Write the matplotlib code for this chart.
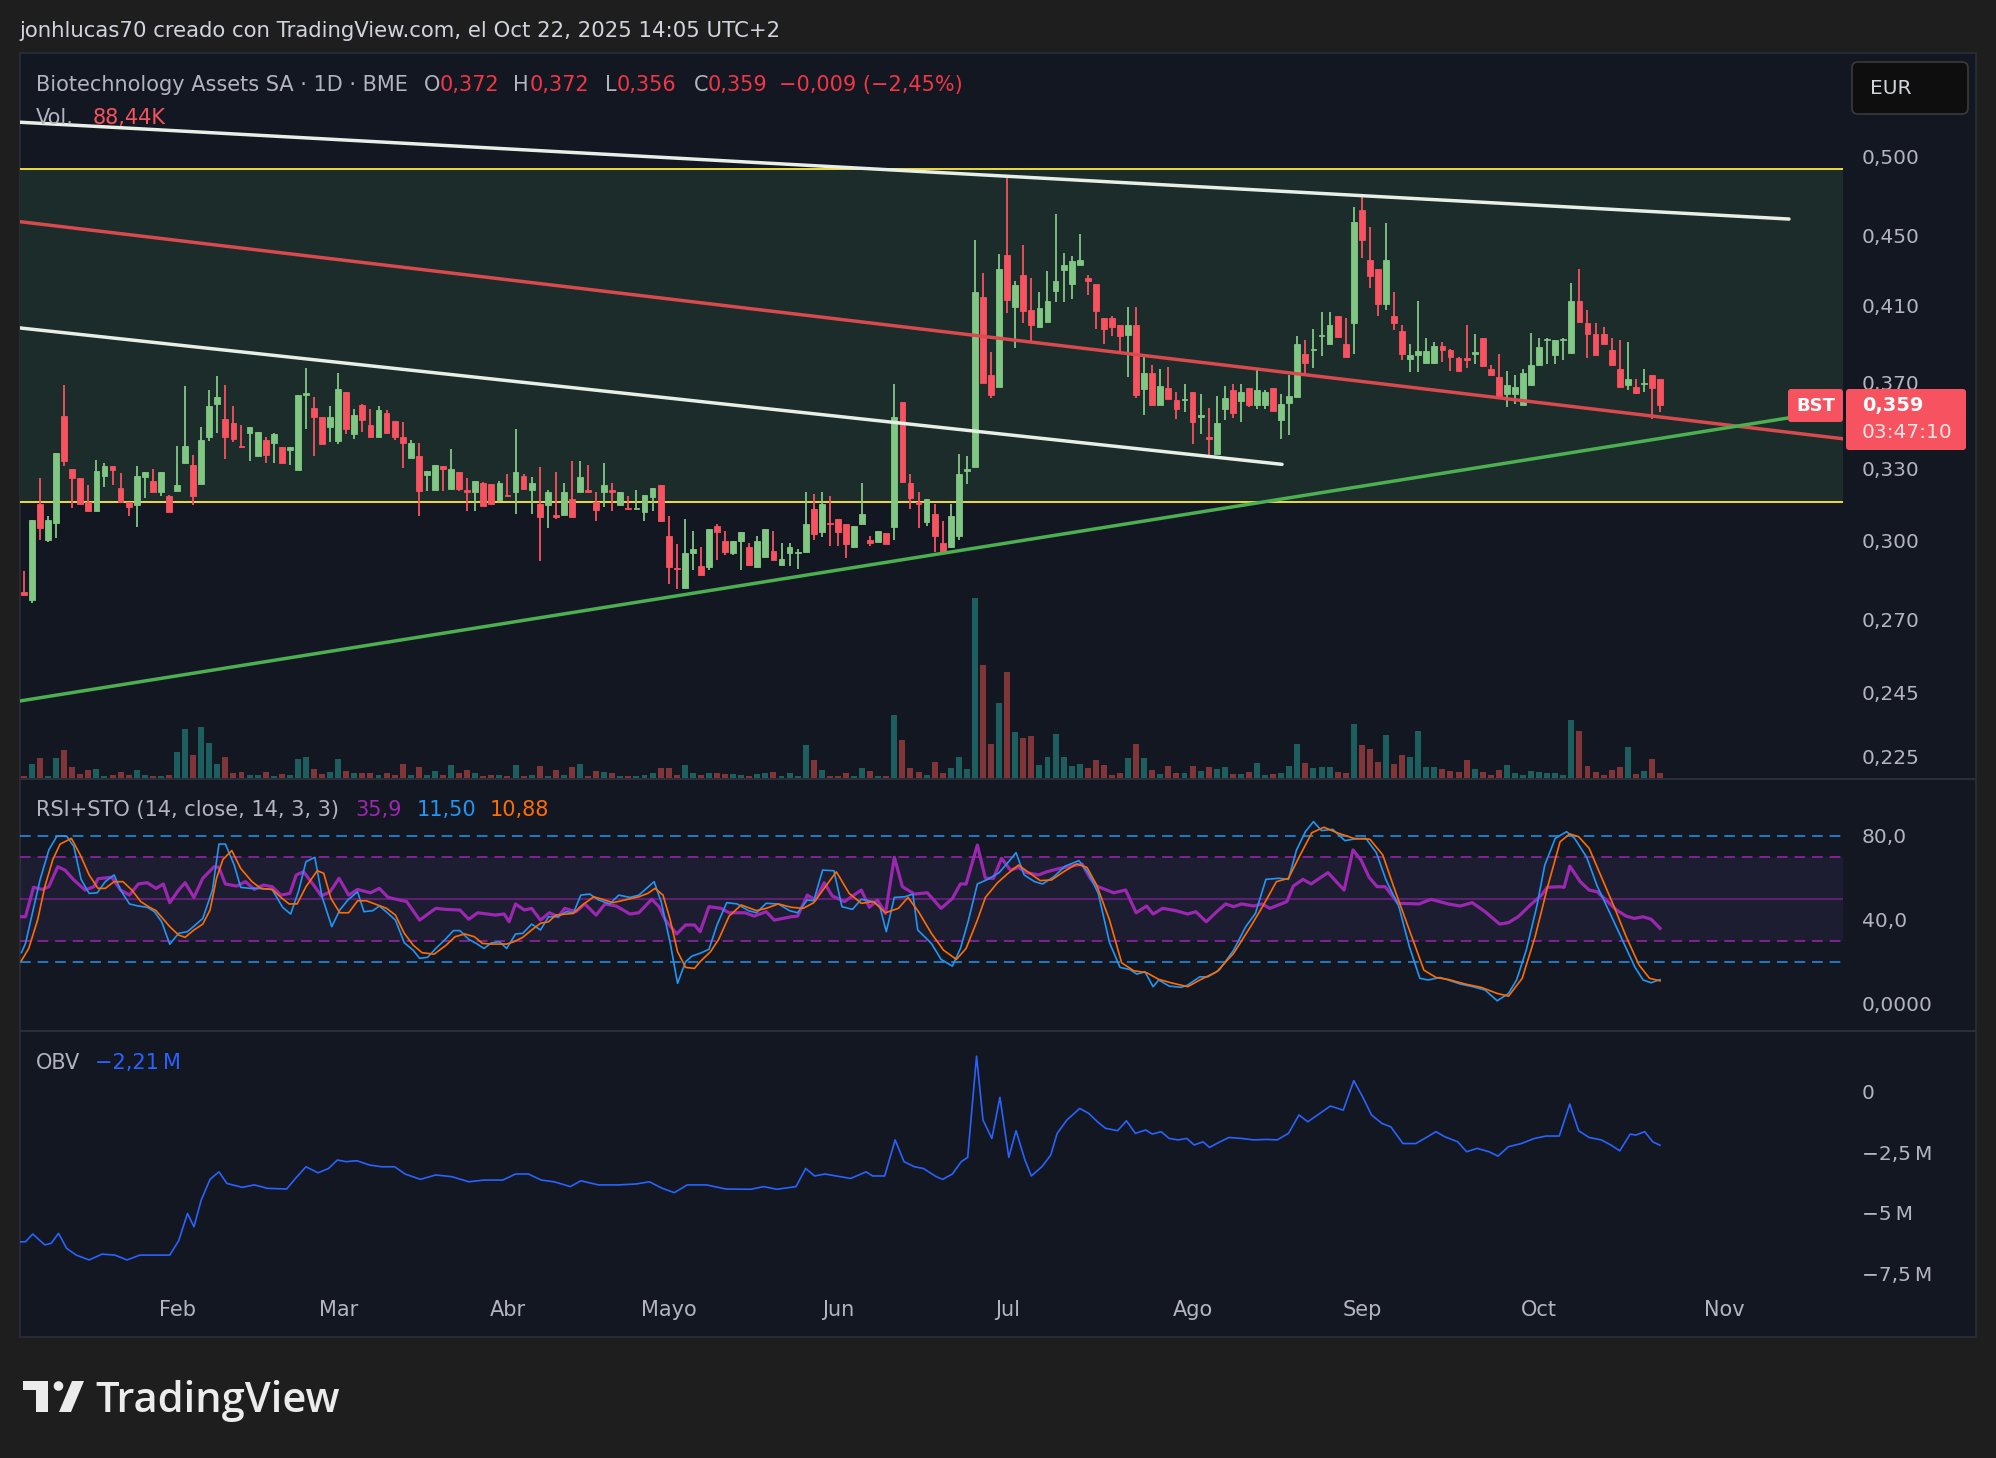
import numpy as np
import pandas as pd
import matplotlib
matplotlib.use("Agg")
import matplotlib.pyplot as plt
from matplotlib.patches import Rectangle, FancyBboxPatch, Polygon, Circle
from matplotlib.lines import Line2D
from matplotlib.ticker import NullLocator
from matplotlib.transforms import IdentityTransform

plt.rcParams["font.family"] = ["DejaVu Sans"]

W, H = 1996, 1458

# ---------------- data ----------------
holidays = ["2025-01-01", "2025-04-18", "2025-04-21", "2025-05-01", "2025-12-25", "2025-12-26"]
month_names = ["Feb", "Mar", "Abr", "Mayo", "Jun", "Jul", "Ago", "Sep", "Oct", "Nov"]

# daily candles, 2025-01-07 .. 2025-10-22
opens = [
    .280, .277, .315, .300, .307, .354, .330, .326, .3155, .312,
    .327, .331, .3215, .3155, .3145, .3265, .3245, .320, .318, .3205,
    .3325, .3317, .3235, .3443, .3595, .3525, .3506, .3403, .346, .3357,
    .3428, .3413, .3398, .3385, .3296, .3638, .3577, .3537, .3486, .3426,
    .3657, .3455, .359, .3497, .3443, .3554, .3515, .3442, .3348, .3356,
    .3272,
    .3208, .3312, .3210, .3286, .3206, .3198, .3239, .3232, .3164, .3186,
    .3198, .3268, .3207, .3148, .3145, .3102, .3102, .3168, .3199, .3209,
    .3155, .3199, .3206, .3145, .3133, .3129, .3117, .3178, .3230, .3016,
    .2893, .2817, .2948, .2897, .2896, .3056, .2996, .2948, .2996, .2975,
    .2896, .2934, .2958, .2902, .2948, .2949, .2955, .3128, .3033, .3070,
    .3085, .3064,
    .2975, .3066, .2999, .2994, .3030, .3054, .3607, .3238, .3155, .3075,
    .3108, .2989, .2975, .3016, .3289, .3306, .4148, .3739, .3680, .4385,
    .4090, .4273, .4077, .3983, .4013, .4183, .4301, .4220, .4329, .4254,
    .4218, .4034, .4034, .3993, .3941, .3993, .3670, .3749, .3592, .3676,
    .3617, .3615, .3656, .3536, .3441, .3365, .3573, .3666, .3611, .3676,
    .3592, .3592,
    .3672, .3521, .3603, .3631, .3844, .3863, .3937, .3894, .4045, .3894,
    .4004, .4659, .4355, .4305, .4111, .4045, .3963, .3821, .3840, .3801,
    .3801, .3884, .3863, .3824, .3822, .3844, .3927, .3770, .3728, .3643,
    .3643, .3594, .3691, .3789, .3915, .3840, .3915, .3850, .4126, .4004,
    .3949, .3949, .3863, .3766, .3691, .3681, .3693, .3738, .372,
]
highs = [
    .288, .308, .326, .310, .337, .369, .330, .326, .323, .334,
    .3325, .331, .328, .3155, .331, .3285, .330, .3285, .3185, .340,
    .3685, .336, .3487, .3666, .3734, .3688, .3586, .3497, .349, .3466,
    .344, .346, .3398, .3398, .3638, .3773, .363, .3537, .3586, .3747,
    .3657, .3575, .3595, .3575, .3586, .3568, .3515, .351, .3428, .3416,
    .3291,
    .3316, .3312, .3387, .3286, .3260, .3248, .3244, .3232, .3248, .3278,
    .3479, .3276, .3262, .3307, .3209, .3286, .3239, .3336, .3336, .3316,
    .3201, .3323, .3239, .3201, .3180, .3209, .3187, .3216, .3230, .3097,
    .2987, .3085, .3036, .2974, .3047, .3064, .3036, .2996, .3033, .2989,
    .3016, .3047, .3036, .2989, .2989, .2967, .3201, .3189, .3201, .3181,
    .3085, .3064,
    .3056, .3238, .3016, .3038, .3030, .3695, .3607, .3278, .3200, .3169,
    .3149, .3079, .3149, .3365, .3356, .4475, .4283, .3855, .4389, .4880,
    .4239, .4444, .4254, .4177, .4293, .4631, .4399, .4379, .4513, .4273,
    .4218, .4034, .4045, .3993, .4090, .4090, .3830, .3789, .3769, .3779,
    .3656, .3695, .3656, .3646, .3579, .3636, .3686, .3695, .3695, .3676,
    .3769, .3666,
    .3672, .3643, .3738, .3937, .3917, .3974, .4066, .4066, .4045, .4031,
    .4677, .4744, .4554, .4305, .4578, .4175, .3998, .3894, .4124, .3927,
    .3907, .3907, .3871, .3830, .3994, .3950, .3927, .3789, .3844, .3760,
    .3738, .3770, .3953, .3927, .3927, .3917, .3927, .4228, .4305, .4075,
    .4004, .3986, .3927, .3917, .3907, .3719, .3770, .3738, .372,
]
lows = [
    .279, .276, .300, .2995, .301, .331, .313, .315, .312, .312,
    .322, .323, .3155, .310, .3055, .3175, .320, .318, .3115, .3205,
    .3325, .3146, .3235, .3426, .346, .3343, .3417, .3396, .3335, .3357,
    .3327, .3327, .3325, .3318, .3296, .348, .3357, .341, .3417, .341,
    .3455, .3433, .3466, .3443, .3443, .3461, .3428, .3302, .3348, .3097,
    .3204,
    .3206, .3204, .3210, .3204, .3121, .3121, .3141, .3149, .3156, .3180,
    .3108, .3210, .3108, .2920, .3050, .3087, .3102, .3094, .3199, .3199,
    .3079, .3137, .3121, .3145, .3128, .3129, .3079, .3121, .3076, .2829,
    .2810, .2817, .2884, .2866, .2883, .2922, .2941, .2942, .2884, .2900,
    .2896, .2934, .2922, .2902, .2899, .2886, .2955, .2999, .3012, .2978,
    .2978, .2929,
    .2970, .3066, .2978, .2994, .2986, .2999, .3238, .3129, .3050, .3058,
    .2953, .2953, .2970, .2999, .3233, .3306, .3699, .3627, .3680, .4058,
    .3877, .4008, .3908, .3983, .4013, .4118, .4118, .4138, .4329, .4156,
    .3977, .3898, .3937, .3846, .3729, .3627, .3544, .3592, .3592, .3621,
    .3525, .3559, .3408, .3456, .3359, .3365, .3521, .3530, .3512, .3582,
    .3573, .3573,
    .3561, .3431, .3449, .3631, .3738, .3772, .3834, .3894, .3933, .3830,
    .3844, .4366, .4198, .4045, .4075, .3967, .3815, .3751, .3751, .3801,
    .3791, .3805, .3760, .3757, .3772, .3795, .3776, .3738, .3631, .3580,
    .3597, .3594, .3691, .3789, .3795, .3795, .3815, .3850, .4014, .3824,
    .3840, .3894, .3789, .3681, .3666, .3643, .3656, .3524, .356,
]
closes = [
    .279, .308, .305, .308, .337, .3335, .326, .315, .312, .329,
    .331, .3295, .3155, .3135, .3268, .3285, .320, .3285, .3115, .3228,
    .340, .318, .3428, .3586, .363, .3442, .3435, .3396, .349, .3466,
    .3362, .3455, .3325, .3398, .3638, .3652, .3537, .341, .3534, .3667,
    .3477, .3544, .352, .3443, .3568, .3461, .3443, .3413, .3416, .3204,
    .3291,
    .3316, .3298, .3299, .3212, .3200, .3248, .3141, .3149, .3236, .3181,
    .3286, .3210, .3236, .3094, .3201, .3096, .3201, .3094, .3262, .3199,
    .3125, .3230, .3200, .3201, .3128, .3133, .3187, .3216, .3076, .2896,
    .2888, .2948, .2967, .2866, .3047, .3035, .2954, .2996, .3033, .2902,
    .2997, .3047, .2922, .2926, .2975, .2955, .3064, .3025, .3148, .3065,
    .3033, .2987,
    .3056, .3106, .2989, .3038, .2986, .3534, .3243, .3174, .3148, .3169,
    .3016, .2954, .3099, .3278, .3298, .4177, .3699, .3640, .4306, .4132,
    .4214, .4073, .3993, .4088, .4124, .4236, .4329, .4349, .4355, .4236,
    .4073, .3977, .3987, .3935, .3993, .3640, .3749, .3592, .3686, .3621,
    .3573, .3623, .3512, .3544, .3433, .3507, .3627, .3553, .3656, .3592,
    .3666, .3656,
    .3565, .3597, .3634, .3894, .3801, .3871, .3943, .3998, .3933, .3830,
    .4583, .4472, .4263, .4111, .4355, .4004, .3842, .3840, .3860, .3860,
    .3884, .3863, .3830, .3757, .3815, .3852, .3781, .3738, .3631, .3691,
    .3681, .3748, .3789, .3880, .3923, .3917, .3921, .4126, .4014, .3949,
    .3840, .3894, .3789, .3681, .3719, .3649, .3700, .3672, .359,
]
# volume, thousands of shares
volumes = [
    36, 252, 360, 36, 360, 504, 198, 72, 144, 162, 36, 54, 108, 54, 144, 54, 36, 36, 54, 468,
    882, 414, 918, 630, 252, 378, 90, 108, 54, 54, 108, 36, 72, 54, 342, 378, 162, 72, 108, 342,
    126, 90, 90, 90, 54, 90, 54, 252, 54, 198, 54,
    126, 54, 234, 90, 144, 90, 36, 54, 54, 36, 234, 36, 54, 216, 36, 144, 54, 198, 252, 36,
    126, 108, 90, 36, 36, 36, 54, 90, 180, 180, 54, 234, 90, 54, 90, 90, 72, 72, 54, 36,
    72, 90, 108, 36, 90, 36, 594, 324, 144, 36, 36, 90,
    36, 180, 126, 36, 36, 1134, 684, 180, 108, 54, 288, 90, 180, 378, 162, 3240, 2034, 612, 1350, 1908,
    828, 720, 756, 234, 378, 792, 378, 216, 252, 180, 324, 234, 54, 90, 360, 612, 360, 144, 72, 216,
    90, 90, 216, 126, 198, 162, 198, 72, 72, 108, 270, 54,
    72, 90, 216, 612, 270, 180, 198, 198, 108, 90, 972, 594, 522, 288, 774, 252, 414, 378, 846, 198,
    198, 162, 126, 108, 324, 162, 108, 54, 144, 234, 90, 54, 126, 108, 90, 90, 54, 1044, 846, 216,
    108, 54, 144, 198, 558, 72, 126, 342, 88,
]

# indicator lines, positions in trading days from 3 Feb
rsi_pos = [-19.3, -18.8, -17.8, -16.7, -15.9, -14.8, -13.9, -12.8, -11.4, -10.3, -9.8, -8.1, -7.0, -5.9, -4.8,
           -3.7, -2.6, -1.7, -0.9, 0.2, 1.0, 2.1, 3.2, 4.6, 5.2, 6.0, 7.4, 8.5, 9.6, 10.7, 11.8, 12.9, 14.0,
           14.8, 15.7, 17.1, 17.9, 19.0, 20.1, 21.3, 22.4, 24.0, 25.1, 26.2, 28.5, 30.1, 32.1, 33.4, 35.1,
           36.2, 37.3, 39.5, 40.6, 41.2, 42.0, 43.1, 44.0, 45.1, 46.2, 47.3, 48.1, 49.5, 50.6, 52.0, 53.1,
           54.5, 56.2, 57.3, 58.9, 59.8, 60.6, 62.0, 63.1, 64.2,
           64.9, 66.0, 67.5, 68.5, 70.5, 71.6, 73.1, 74.1, 76.2, 77.0, 78.2, 79.2, 80.3, 81.3, 82.8, 84.9,
           85.9, 86.9, 87.9, 89.0, 90.0, 91.5, 93.1, 94.8, 96.2, 97.2, 97.9, 99.3, 100.3, 101.3, 102.3,
           103.4, 104.4, 105.4, 106.9, 107.9, 109.5, 111.0, 112.3, 113.3, 114.1, 116.2, 117.7, 119.0,
           120.3, 121.1, 122.3, 123.9, 125.4, 126.4, 127.7, 129.0, 130.1, 131.1, 132.1, 133.6, 134.6,
           135.6, 137.7, 138.5, 139.7, 140.7, 142.8, 144.8, 145.9, 146.9, 147.9, 148.9, 149.9, 151.5,
           154.1, 155.6, 157.7, 159.2, 160.7, 162.3, 164.1, 165.2, 166.4, 167.9, 169.3, 170.0, 171.6,
           172.1, 172.8, 174.1, 175.2, 176.2, 177.2, 178.6, 179.8, 180.8, 181.9, 182.9, 184.0]
rsi_val = [41.4, 41.4, 55.4, 54.4, 55.7, 65.2, 63.6, 58.9, 54.1, 55.7, 59.5, 60.2, 54.1, 51.7, 57.0,
           57.6, 54.9, 57.0, 48.1, 54.1, 57.6, 50.6, 59.7, 65.2, 64.9, 57.0, 56.0, 58.1, 54.4, 56.5, 55.7,
           51.7, 52.5, 61.3, 62.8, 55.7, 51.3, 53.3, 59.7, 51.7, 54.4, 52.8, 54.9, 50.6, 48.6, 39.8, 45.4,
           44.9, 44.6, 40.2, 43.3, 42.2, 42.7, 39.0, 47.5, 44.6, 45.4, 39.8, 43.3, 41.4, 45.4, 43.8, 47.5,
           42.2, 47.5, 46.5, 42.7, 43.3, 49.7, 46.2, 39.8, 33.2, 37.5, 37.5,
           34.3, 46.2, 45.4, 43.3, 43.3, 41.7, 43.8, 39.8, 41.4, 41.7, 51.7, 49.4, 57.6, 51.3, 48.6, 54.1,
           45.9, 49.4, 43.0, 69.7, 55.7, 52.2, 52.8, 45.4, 50.1, 57.0, 57.0, 75.5, 59.7, 59.7, 69.2,
           63.6, 64.9, 62.4, 61.3, 62.8, 64.4, 65.5, 66.5, 59.7, 56.0, 52.8, 54.1, 43.3,
           46.5, 42.7, 45.4, 44.3, 42.7, 43.8, 39.0, 43.8, 47.5, 46.2, 47.5, 46.5, 47.5,
           45.4, 48.6, 56.0, 59.2, 57.0, 62.4, 54.1, 73.2, 68.4, 60.2, 55.7, 55.7, 47.8,
           47.5, 49.7, 47.5, 46.5, 48.1, 43.8, 37.9, 38.6, 41.4, 47.0, 51.7, 55.4, 55.7,
           55.4, 65.5, 58.1, 54.1, 53.3, 49.7, 44.6, 41.7, 40.6, 41.4, 40.2, 35.9]
k_pos = [-19.3, -18.8, -17.8, -17.0, -15.9, -14.9, -13.7, -12.8, -11.9, -10.9, -9.9, -8.9, -7.8, -7.0, -5.9,
         -4.8, -3.7, -2.8, -1.9, -0.9, 0.2, 1.3, 2.4, 3.2, 4.4, 5.2, 6.0, 7.1, 7.9, 9.1, 10.2, 11.8, 13.1,
         14.1, 15.1, 16.0, 17.1, 18.0, 19.2, 20.2, 21.2, 22.4, 23.2, 24.3, 25.1, 26.2, 27.1, 28.2, 29.3,
         30.1, 31.1, 32.1, 33.2, 34.3, 35.1, 36.2, 37.0, 38.1, 39.0, 40.0, 40.9, 42.0, 42.9, 44.0, 45.1,
         46.1, 47.2, 48.3, 49.2, 50.1, 51.2, 52.3, 53.7, 54.8, 56.2, 57.3, 58.4, 59.2, 60.1, 61.2, 62.1,
         63.1, 63.9,
         64.9, 66.0, 67.0, 68.2, 69.5, 70.9, 71.9, 73.1, 74.6, 76.0, 77.0, 78.2, 79.0, 80.1, 81.5, 82.5,
         83.8, 84.9, 86.4, 87.2, 88.0, 89.0, 90.3, 91.3, 91.9, 93.6, 94.8, 96.2, 97.2, 98.2, 99.3, 100.6,
         102.0, 103.0, 104.1, 105.1, 106.4, 107.4, 108.8, 110.2, 111.9, 113.1, 114.3, 115.7, 117.0,
         118.2, 119.1, 120.1, 121.1, 121.8, 123.1, 124.6, 125.4, 126.9, 127.9, 129.3, 131.1, 132.6,
         133.8, 135.1, 136.7, 137.9, 138.9, 140.0, 141.0, 142.0, 143.4, 144.9, 145.9, 147.5, 148.8,
         150.0, 151.6, 152.9, 154.2, 155.2, 156.7, 157.7, 159.2, 160.8, 162.3, 163.8, 165.2, 166.2,
         167.4, 168.7, 169.7, 171.0, 172.4, 173.4, 174.9, 176.2, 177.8, 179.3, 180.9, 181.9, 182.9, 184.0]
k_val = [24.3, 28.7, 45.4, 58.9, 73.2, 79.8, 79.8, 74.8, 59.2, 52.5, 52.8, 58.1, 61.3, 54.1, 47.5,
         46.5, 45.9, 43.8, 39.0, 28.3, 33.5, 34.3, 37.9, 40.6, 54.1, 76.0, 76.0, 66.0, 55.4, 54.9, 54.9,
         54.4, 45.9, 42.7, 53.8, 67.6, 69.7, 50.9, 36.7, 44.6, 49.4, 53.3, 43.8, 44.3, 46.5, 43.0, 39.8,
         29.0, 25.5, 21.6, 22.1, 26.3, 30.3, 34.8, 34.8, 30.6, 29.0, 26.3, 29.0, 29.5, 26.3, 33.2, 33.5,
         37.9, 35.1, 41.4, 41.4, 43.8, 43.3, 51.7, 52.2, 49.4, 47.5, 51.7, 50.6, 51.7, 55.4, 58.1, 48.1,
         28.7, 9.7, 20.0, 22.7,
         24.0, 25.9, 37.5, 48.1, 47.5, 44.3, 43.3, 47.8, 47.5, 44.3, 43.3, 49.4, 49.0, 63.6, 63.3, 46.2,
         44.9, 49.7, 48.6, 46.2, 34.3, 50.6, 50.9, 52.2, 35.1, 28.7, 21.1, 17.9, 26.3, 39.8, 57.0, 59.2,
         62.4, 66.8, 71.9, 61.3, 58.1, 57.0, 60.5, 65.5, 68.1, 62.1, 52.5, 29.0, 17.3,
         16.3, 14.1, 15.2, 8.1, 11.3, 8.4, 7.8, 8.9, 12.8, 12.8, 16.0, 25.5, 36.7,
         43.0, 59.2, 59.7, 59.2, 73.2, 81.9, 86.7, 82.4, 83.0, 77.6, 78.3, 78.7, 71.9,
         58.9, 46.2, 27.1, 12.1, 11.3, 12.5, 11.3, 9.4, 8.1, 6.5, 1.4, 4.9, 11.3,
         25.5, 46.2, 66.0, 78.7, 81.9, 78.7, 69.7, 56.0, 43.0, 30.6, 17.3, 11.3, 10.0, 11.5]
d_pos = [-19.3, -18.4, -17.3, -16.4, -15.4, -14.5, -13.1, -12.0, -10.9, -9.8, -8.9, -7.8, -6.7, -5.6, -4.5,
         -3.4, -2.6, -0.9, 0.2, 1.0, 2.1, 3.2, 4.1, 4.9, 5.7, 6.8, 7.9, 9.3, 10.4, 11.8, 12.9, 13.9, 14.9,
         16.0, 17.4, 18.2, 19.1, 20.2, 21.3, 22.4, 23.5, 24.9, 26.0, 27.1, 28.2, 29.3, 30.4, 31.9, 33.4,
         34.5, 35.7, 36.9, 37.9, 39.0, 40.9, 41.8, 42.9, 44.0, 45.1, 46.1, 47.0, 48.3, 49.2, 50.3, 51.7,
         52.8, 54.1, 55.6, 57.3, 58.4, 59.3, 60.3, 61.2, 62.1, 63.1, 64.2,
         64.9, 66.2, 67.2, 68.5, 70.0, 71.9, 73.1, 74.6, 76.2, 77.7, 79.0, 80.5, 81.8, 83.4, 84.9, 86.4,
         87.9, 89.5, 90.7, 92.0, 93.6, 95.1, 96.7, 97.9, 99.3, 100.3, 101.8, 103.0, 104.4, 105.7, 107.1,
         108.5, 110.0, 111.6, 112.9, 114.1, 115.7, 117.2, 118.7, 120.3, 121.8, 123.3, 125.4, 126.9,
         129.0, 131.1, 133.2, 134.8, 136.4, 137.9, 139.2, 140.8, 142.3, 143.9, 146.0, 148.0, 149.6,
         151.1, 152.9, 154.7, 156.2, 157.7, 159.8, 161.8, 163.8, 165.2, 166.9, 168.5, 170.0, 171.6,
         172.8, 173.9, 175.2, 176.7, 178.3, 179.8, 181.4, 182.7, 184.0]
d_val = [20.5, 26.3, 39.8, 55.7, 68.7, 76.0, 78.7, 70.8, 61.3, 54.9, 54.9, 58.1, 58.1, 54.1, 48.6,
         45.9, 44.3, 36.7, 32.7, 31.6, 35.1, 37.9, 44.6, 59.7, 68.7, 72.9, 64.4, 58.1, 54.9, 54.4, 50.6,
         47.5, 47.5, 55.7, 63.3, 62.1, 50.1, 43.3, 43.3, 49.0, 49.0, 47.0, 45.4, 42.2, 33.5, 27.9, 24.3,
         23.6, 27.9, 31.9, 33.2, 31.9, 28.7, 28.4, 28.4, 29.5, 31.6, 35.1, 38.3, 39.0, 42.2, 42.7, 43.0,
         47.0, 50.9, 49.7, 48.1, 49.4, 50.9, 52.5, 54.9, 51.7, 39.8, 24.8, 17.3, 16.8,
         20.0, 24.8, 30.6, 41.7, 47.0, 44.3, 45.4, 47.5, 45.9, 45.4, 48.1, 56.0, 62.8, 52.5, 47.8, 48.6,
         43.3, 45.4, 50.6, 43.8, 33.5, 25.5, 21.1, 26.3, 39.8, 50.6, 57.6, 61.7, 66.0, 62.4, 58.6,
         58.9, 62.8, 66.5, 64.9, 56.5, 39.8, 19.5, 15.7, 14.8, 11.6, 10.0, 8.1, 11.3,
         15.2, 24.0, 36.7, 47.0, 58.1, 59.7, 69.7, 81.4, 84.0, 81.4, 78.7, 78.3, 70.8,
         54.1, 35.1, 16.0, 12.5, 11.6, 9.4, 7.8, 4.9, 3.6, 12.1, 31.9, 54.9, 77.1,
         80.8, 79.5, 74.0, 60.5, 46.2, 31.9, 18.4, 12.1, 10.9]
obv_pos = [-19.4, -18.8, -17.9, -16.4, -15.6, -14.7, -13.7, -12.5, -10.9, -9.3,
           -7.7, -6.2, -4.6, -3.0, -0.9, 0.2, 1.3, 2.1, 3.0, 4.1,
           5.2, 6.2, 8.1, 9.6, 11.2, 13.6, 14.7, 16.0, 17.5, 18.8,
           19.9, 21.0, 22.3, 23.9, 25.4, 27.0, 28.3, 30.2, 32.1, 34.1,
           36.2, 38.1, 40.4, 42.0, 43.6, 45.2, 46.8, 48.8, 50.1, 52.3,
           54.7, 57.0, 58.6, 60.2, 61.7, 63.3, 65.7, 68.1, 71.2, 72.8,
           74.4, 76.8, 78.0, 79.1, 80.4, 82.3, 83.6, 85.5, 86.3, 87.8,
           89.1, 90.2, 91.5, 92.6, 94.2, 95.0, 96.2, 97.3, 98.1, 99.2,
           100.0, 101.1, 102.1, 103.2, 104.1, 105.2, 106.0, 107.3, 108.4, 109.2,
           110.4, 112.0, 113.1, 114.2, 115.2, 116.7, 117.8, 118.9, 120.2, 121.0,
           122.1, 123.1, 124.2, 125.3, 126.2, 127.3, 128.1, 129.4, 130.5, 132.1,
           133.6, 135.2, 136.5, 137.9, 139.2, 140.3, 141.5, 143.1, 144.7, 146.0,
           147.1, 148.2, 149.5, 150.6, 152.1, 153.7, 155.0, 156.2, 157.3, 158.9,
           160.0, 161.3, 162.8, 163.9, 165.2, 166.8, 168.4, 169.9, 171.5, 172.8,
           173.9, 175.2, 176.7, 177.9, 179.0, 180.3, 181.0, 182.1, 183.1, 184.0]
obv_val = [-6.20, -6.20, -5.88, -6.33, -6.26, -5.85, -6.47, -6.75, -6.95, -6.71,
           -6.75, -6.95, -6.75, -6.75, -6.75, -6.16, -5.03, -5.58, -4.48, -3.62,
           -3.31, -3.79, -3.95, -3.85, -3.99, -4.02, -3.58, -3.10, -3.35, -3.17,
           -2.82, -2.89, -2.85, -3.03, -3.10, -3.10, -3.40, -3.62, -3.44, -3.51,
           -3.72, -3.65, -3.65, -3.40, -3.40, -3.65, -3.72, -3.92, -3.68, -3.85,
           -3.85, -3.81, -3.72, -3.99, -4.17, -3.85, -3.85, -4.02, -4.03, -3.92,
           -4.03, -3.92, -3.17, -3.48, -3.40, -3.51, -3.58, -3.31, -3.48, -3.48,
           -1.99, -2.89, -3.10, -3.17, -3.51, -3.62, -3.40, -2.89, -2.71, 1.47,
           -1.17, -1.93, -0.23, -2.71, -1.61, -2.82, -3.48, -3.10, -2.62, -1.72,
           -1.17, -0.69, -0.89, -1.24, -1.51, -1.61, -1.20, -1.72, -1.58, -1.75,
           -1.65, -1.93, -1.99, -1.93, -2.20, -2.07, -2.30, -2.07, -1.89, -1.93,
           -1.99, -1.97, -1.99, -1.72, -0.96, -1.24, -0.96, -0.59, -0.76, 0.46,
           -0.21, -0.96, -1.31, -1.45, -2.14, -2.14, -1.89, -1.65, -1.86, -2.07,
           -2.48, -2.34, -2.48, -2.66, -2.27, -2.14, -1.93, -1.83, -1.83, -0.51,
           -1.61, -1.89, -1.99, -2.20, -2.44, -1.75, -1.79, -1.65, -2.07, -2.21]

price_ticks = [0.500, 0.450, 0.410, 0.370, 0.330, 0.300, 0.270, 0.245, 0.225]
rsi_ticks = [80, 40, 0]
rsi_tick_labels = ["80,0", "40,0", "0,0000"]
obv_ticks = [0, -2.5, -5, -7.5]
obv_tick_labels = ["0", "\u22122,5\u202fM", "\u22125\u202fM", "\u22127,5\u202fM"]

# drawings on the chart: (trading days from 3 Feb, price)
white_top = [(-19.5, 0.5234), (200.0, 0.4601)]
white_low = [(-19.5, 0.3980), (137.1, 0.3319)]
red_line = [(-19.5, 0.4585), (206.7, 0.3434)]
green_line = [(-19.5, 0.2422), (206.7, 0.3572)]
zone_top, zone_bottom = 0.4916, 0.3158

# ---------------- style ----------------
BG_OUT = "#1e1e1e"
BG = "#131722"
UP, DOWN = "#81c784", "#f7525f"
VUP, VDOWN = "#1d5e5e", "#803539"
GRAY = "#b2b5be"
RED_TXT = "#f23645"
PX = IdentityTransform()

fig = plt.figure(figsize=(W / 100, H / 100), dpi=100, facecolor=BG_OUT)


def rect(x0, y0, x1, y1):
    return [x0 / W, 1 - y1 / H, (x1 - x0) / W, (y1 - y0) / H]


def ftext(x, y, s, **kw):
    kw.setdefault("va", "center")
    kw.setdefault("ha", "left")
    return fig.text(x, H - y, s, transform=PX, **kw)


fig.add_artist(Rectangle((20, H - 1337), 1956, 1337 - 53, transform=PX,
                         facecolor=BG, edgecolor="#2a2e39", lw=1.2, zorder=-5))
for yy in (778.5, 1030.5):
    fig.add_artist(Line2D([20, 1976], [H - yy, H - yy], transform=PX, color="#2a2e39", lw=1.5, zorder=-4))

# x positions
days = pd.bdate_range("2025-01-07", "2025-11-28", freq="C", holidays=holidays)
n = len(closes)
feb = int(np.searchsorted(days, pd.Timestamp("2025-02-01")))
x = np.arange(n) - feb
firsts = [i for i in range(1, len(days)) if days[i].month != days[i - 1].month]
month_pos = [i - feb for i in firsts]
XL = (-19.48, 206.7)

o = np.array(opens); h = np.array(highs); l = np.array(lows); c = np.array(closes)
up = c >= o
ccol = np.where(up, UP, DOWN)
vcol = np.where(up, VUP, VDOWN)

# ---- volume (behind) ----
ax_v = fig.add_axes(rect(20, 55, 1843, 778))
ax_v.set_zorder(1)
ax_v.patch.set_alpha(0)
ax_v.bar(x, volumes, width=0.74, color=vcol, linewidth=0)
ax_v.set_xlim(*XL)
ax_v.set_ylim(0, max(volumes) * 4.02)
ax_v.axis("off")

# ---- price ----
ax = fig.add_axes(rect(20, 55, 1843, 778))
ax.set_zorder(2)
ax.patch.set_alpha(0)
ax.set_yscale("log")
ax.set_xlim(*XL)
ax.set_ylim(0.2186, 0.5724)
ax.axhspan(zone_bottom, zone_top, color="#1b2c2a", lw=0, zorder=0.5)
for lv in (zone_top, zone_bottom):
    ax.axhline(lv, color="#ffeb3b", lw=1.3, zorder=1)
ax.vlines(x, l, h, colors=ccol, lw=1.3, zorder=3)
ax.bar(x, np.abs(c - o), bottom=np.minimum(o, c), width=0.72, color=ccol,
       edgecolor=ccol, linewidth=0.6, zorder=4)
for line, col in ((white_top, "#e8efe6"), (white_low, "#e8efe6"), (red_line, "#d94a4e"), (green_line, "#4caf50")):
    ax.plot([line[0][0], line[1][0]], [line[0][1], line[1][1]], color=col, lw=2.5,
            solid_capstyle="round", zorder=5)
ax.yaxis.tick_right()
ax.set_yticks(price_ticks)
ax.set_yticklabels([f"{v:.3f}".replace(".", ",") for v in price_ticks])
ax.yaxis.set_minor_locator(NullLocator())
ax.set_xticks([])
ax.tick_params(axis="y", length=0, pad=13.5, labelsize=14.5, labelcolor=GRAY)
for s in ax.spines.values():
    s.set_visible(False)

# ---- RSI + stochastic ----
ax_r = fig.add_axes(rect(20, 779, 1843, 1030))
ax_r.patch.set_alpha(0)
ax_r.set_xlim(*XL)
ax_r.set_ylim(-12.5, 106.96)
ax_r.axhspan(30, 70, color="#7e57c2", alpha=0.1, lw=0)
ax_r.axhline(50, color="#9c27b0", alpha=0.5, lw=1.5)
for lv in (70, 30):
    ax_r.axhline(lv, color="#9c27b0", lw=1.1, ls=(0, (7, 4.5)))
for lv in (80, 20):
    ax_r.axhline(lv, color="#2196f3", lw=1.1, ls=(0, (7, 4.5)))
ax_r.plot(rsi_pos, rsi_val, color="#9c27b0", lw=2.3, zorder=3)
ax_r.plot(k_pos, k_val, color="#2196f3", lw=1.2, zorder=4)
ax_r.plot(d_pos, d_val, color="#ff6d00", lw=1.2, zorder=5)
ax_r.yaxis.tick_right()
ax_r.set_yticks(rsi_ticks)
ax_r.set_yticklabels(rsi_tick_labels)
ax_r.set_xticks([])
ax_r.tick_params(axis="y", length=0, pad=13.5, labelsize=14.5, labelcolor=GRAY)
for s in ax_r.spines.values():
    s.set_visible(False)

# ---- OBV ----
ax_o = fig.add_axes(rect(20, 1031, 1843, 1296))
ax_o.patch.set_alpha(0)
ax_o.set_xlim(*XL)
ax_o.set_ylim(-8.44, 2.51)
ax_o.plot(obv_pos, obv_val, color="#2962ff", lw=1.2)
ax_o.yaxis.tick_right()
ax_o.set_yticks(obv_ticks)
ax_o.set_yticklabels(obv_tick_labels)
ax_o.set_xticks(month_pos)
ax_o.set_xticklabels(month_names)
ax_o.tick_params(axis="y", length=0, pad=13.5, labelsize=14.5, labelcolor=GRAY)
ax_o.tick_params(axis="x", length=0, pad=3, labelsize=15, labelcolor=GRAY)
for s in ax_o.spines.values():
    s.set_visible(False)

# ---- texts / overlays ----
ftext(19, 31, "jonhlucas70 creado con TradingView.com, el Oct 22, 2025 14:05 UTC+2",
      fontsize=15.3, color="#d1d4dc")
ftext(36, 85, "Biotechnology Assets SA \u00b7 1D \u00b7 BME", fontsize=15, color=GRAY)
for lab, xl, val, xv in (("O", 424, "0,372", 440), ("H", 513, "0,372", 530),
                         ("L", 605, "0,356", 617), ("C", 694, "0,359", 708)):
    ftext(xl, 85, lab, fontsize=15, color=GRAY)
    ftext(xv, 85, val, fontsize=15, color=RED_TXT)
ftext(779, 85, "\u22120,009 (\u22122,45%)", fontsize=15, color=RED_TXT)
ftext(36, 118, "Vol.", fontsize=15, color=GRAY)
ftext(93, 118, "88,44K", fontsize=15, color=DOWN)

ftext(36, 810, "RSI+STO (14, close, 14, 3, 3)", fontsize=15, color=GRAY)
ftext(355, 810, "35,9", fontsize=15, color="#9c27b0")
ftext(417, 810, "11,50", fontsize=15, color="#2196f3")
ftext(490, 810, "10,88", fontsize=15, color="#ff6d00")
ftext(36, 1063, "OBV", fontsize=15, color=GRAY)
ftext(95, 1063, "\u22122,21\u202fM", fontsize=15, color="#2962ff")

# currency box
fig.add_artist(FancyBboxPatch((1852, H - 114), 116, 52, boxstyle="round,pad=0,rounding_size=6",
                              transform=PX, facecolor="#0e0e0e", edgecolor="#3a3a3a", lw=1.2, zorder=6))
ftext(1870, 88, "EUR", fontsize=14.5, color="#d1d4dc", zorder=7)

# last price label
fig.add_artist(FancyBboxPatch((1846, H - 450), 120, 61, boxstyle="round,pad=0,rounding_size=3",
                              transform=PX, facecolor=DOWN, edgecolor="none", zorder=6))
ftext(1862, 406, "0,359", fontsize=14, color="white", weight="bold", zorder=7)
ftext(1862, 432, "03:47:10", fontsize=14.5, color="#fde4e6", zorder=7)
fig.add_artist(FancyBboxPatch((1788, H - 422), 55, 33, boxstyle="round,pad=0,rounding_size=3",
                              transform=PX, facecolor=DOWN, edgecolor="none", zorder=6))
ftext(1815.5, 406, "BST", fontsize=13, color="white", weight="bold", ha="center", zorder=7)

# TradingView logo
LOGO = "#ececec"
fig.add_artist(Rectangle((23, H - 1390), 25, 9, transform=PX, color=LOGO, lw=0))
fig.add_artist(Rectangle((36, H - 1412), 12, 31, transform=PX, color=LOGO, lw=0))
fig.add_artist(Circle((58.5, H - 1386), 4.8, transform=PX, color=LOGO, lw=0))
fig.add_artist(Polygon([(72, H - 1381), (84, H - 1381), (71, H - 1412), (59, H - 1412)],
                       closed=True, transform=PX, color=LOGO, lw=0))
ftext(95, 1412, "TradingView", fontsize=30, color=LOGO, family="Open Sans",
      weight="semibold", va="baseline")

fig.savefig("out.png", dpi=100, facecolor=fig.get_facecolor())
